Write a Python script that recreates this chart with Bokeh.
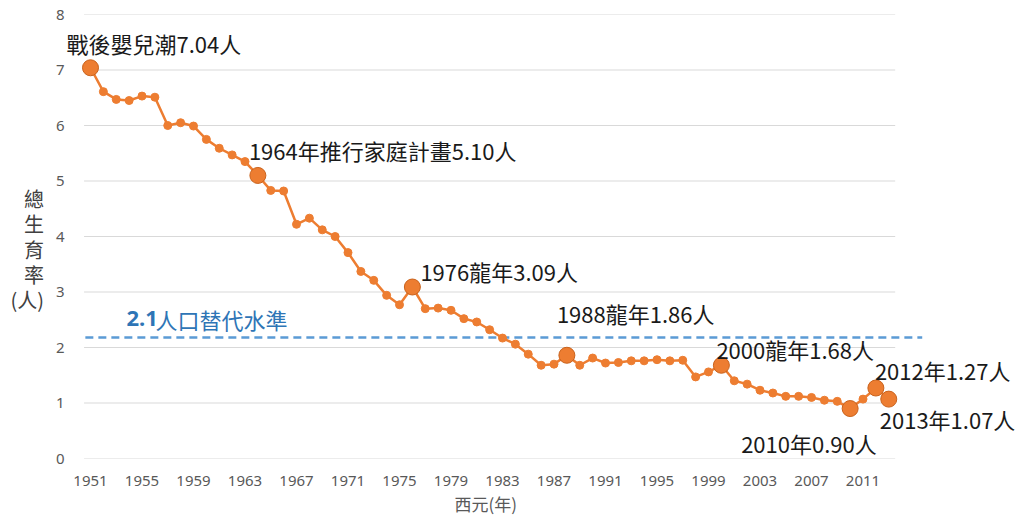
from bokeh.plotting import figure
from bokeh.models import Range1d, FixedTicker, Label, Title
from bokeh.embed import file_html
from bokeh.resources import INLINE

# ---------------- data ----------------
years = list(range(1951, 2014))
tfr = [7.04, 6.61, 6.47, 6.45, 6.53, 6.51, 6.00, 6.05, 5.99, 5.75,
       5.59, 5.47, 5.35, 5.10, 4.83, 4.82, 4.22, 4.33, 4.12, 4.00,
       3.71, 3.37, 3.21, 2.94, 2.77, 3.09, 2.70, 2.71, 2.67, 2.52,
       2.46, 2.32, 2.17, 2.06, 1.88, 1.68, 1.70, 1.86, 1.68, 1.81,
       1.72, 1.73, 1.76, 1.76, 1.78, 1.76, 1.77, 1.47, 1.56, 1.68,
       1.40, 1.34, 1.23, 1.18, 1.12, 1.12, 1.10, 1.05, 1.03, 0.90,
       1.07, 1.27, 1.07]
highlight_years = [1951, 1964, 1976, 1988, 2000, 2010, 2012, 2013]
highlight_texts = ["戰後嬰兒潮7.04人", "1964年推行家庭計畫5.10人", "1976龍年3.09人",
                   "1988龍年1.86人", "2000龍年1.68人", "2010年0.90人",
                   "2012年1.27人", "2013年1.07人"]
replacement_level = 2.18
replacement_num = "2.1"
replacement_text = "人口替代水準"
x_ticks = list(range(1951, 2012, 4))
y_ticks = [0, 1, 2, 3, 4, 5, 6, 7, 8]
x_title = "西元(年)"
y_title = "\u3000\n總\n生\n育\n率\n(人)"

# ---------------- layout / style ----------------
# label offsets (screen px) relative to each highlighted point: (dx, dy up)
label_offsets = {1951: (-24, 25), 1964: (-9, 25), 1976: (8, 16), 1988: (-10, 42),
                 2000: (-5, 16), 2010: (-109, -34), 2012: (-1, 18), 2013: (-9, -20)}

ORANGE = "#ED7D31"
EDGE = "#C9621C"
GRID = "#D9D9D9"
TICK = "#595959"
CJK = "Noto Sans CJK TC"

W, H = 1019, 515
FRAME_LEFT = 64          # px
FIRST_PX = 90            # px position of first category centre
STEP = 12.875            # px per year
x0 = years[0] - 0.5
x1 = years[-1] + 0.5
x_start = years[0] - (FIRST_PX - FRAME_LEFT) / STEP
x_end = years[0] + (W - FIRST_PX) / STEP

p = figure(width=W, height=H,
           x_range=Range1d(x_start, x_end), y_range=Range1d(0, 8),
           output_backend="svg", toolbar_location=None,
           min_border_left=FRAME_LEFT, min_border_right=0,
           min_border_top=14, min_border_bottom=0)
p.outline_line_color = None
p.background_fill_color = "white"
p.border_fill_color = "white"
p.xgrid.visible = False
p.ygrid.visible = False

# gridlines over the category span only
p.segment(x0=[x0] * len(y_ticks), x1=[x1] * len(y_ticks), y0=y_ticks, y1=y_ticks,
          line_color=GRID, line_width=1)

# replacement level dashed line
p.segment(x0=[years[0] - 0.4], x1=[years[-1] + 2.6],
          y0=[replacement_level], y1=[replacement_level],
          line_color="#5B9BD5", line_width=2.5, line_dash="8 5")

# main series
p.line(years, tfr, line_color=ORANGE, line_width=2.5)
small_x = [y for y in years if y not in highlight_years]
small_y = [v for y, v in zip(years, tfr) if y not in highlight_years]
p.scatter(small_x, small_y, size=8, fill_color=ORANGE, line_color=ORANGE)
big_y = [tfr[years.index(y)] for y in highlight_years]
p.scatter(highlight_years, big_y, size=16, fill_color=ORANGE, line_color=EDGE, line_width=1)

for yr, val, txt in zip(highlight_years, big_y, highlight_texts):
    dx, dy = label_offsets[yr]
    p.add_layout(Label(x=yr, y=val, x_offset=dx, y_offset=dy, text=txt,
                       text_font=CJK, text_font_size="22px", text_color="#1a1a1a",
                       text_baseline="middle", text_align="left"))

# replacement label
p.add_layout(Label(x=years[0], y=replacement_level, x_offset=36, y_offset=19,
                   text=replacement_num, text_font="Noto Sans", text_font_style="bold",
                   text_font_size="22px", text_color="#2E75B6",
                   text_baseline="middle", text_align="left"))
p.add_layout(Label(x=years[0], y=replacement_level, x_offset=65, y_offset=19,
                   text=replacement_text, text_font=CJK,
                   text_font_size="22px", text_color="#2E75B6",
                   text_baseline="middle", text_align="left"))

# axes
for ax in (p.xaxis, p.yaxis):
    ax.axis_line_color = None
    ax.major_tick_line_color = None
    ax.minor_tick_line_color = None
    ax.major_tick_out = 0
    ax.major_tick_in = 0
    ax.major_label_text_font = "Noto Sans"
    ax.major_label_text_font_size = "15px"
    ax.major_label_text_color = TICK
p.xaxis.ticker = FixedTicker(ticks=x_ticks)
p.yaxis.ticker = FixedTicker(ticks=y_ticks)
p.xaxis.major_label_standoff = 17
p.yaxis.major_label_standoff = 0

p.yaxis.axis_label = y_title
p.yaxis.axis_label_orientation = "horizontal"
p.yaxis.axis_label_text_font = CJK
p.yaxis.axis_label_text_font_size = "20px"
p.yaxis.axis_label_text_font_style = "normal"
p.yaxis.axis_label_text_color = "#404040"
p.yaxis.axis_label_text_line_height = 0.87
p.yaxis.axis_label_standoff = 9

p.add_layout(Title(text=x_title, align="left", offset=390,
                   text_font=CJK, text_font_size="17px", text_font_style="normal",
                   text_color=TICK, standoff=0), "below")

open("out.html", "w").write(file_html(p, INLINE))
